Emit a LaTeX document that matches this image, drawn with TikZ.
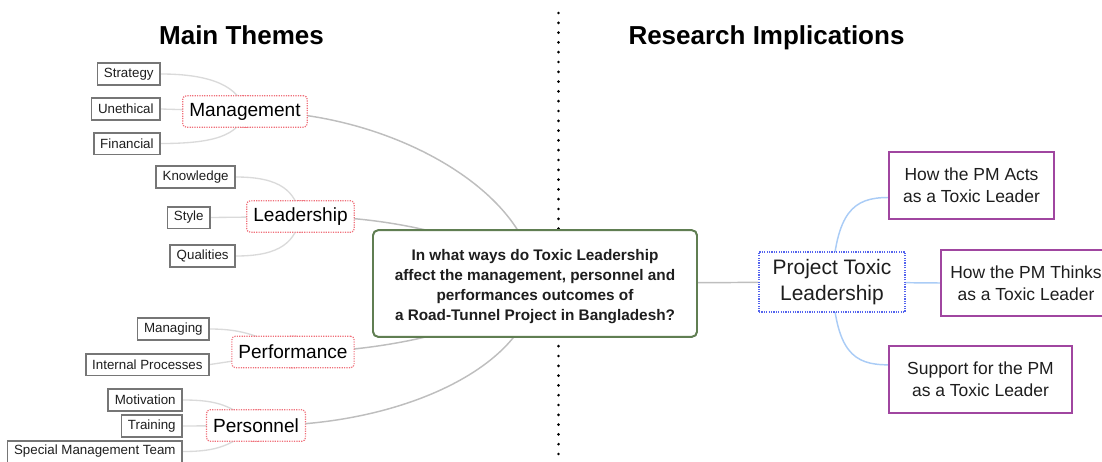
\documentclass[tikz,border=0pt]{standalone}
\usepackage{fontspec}
\setmainfont{Liberation Sans}
\usepackage{tikz}

\definecolor{themered}{RGB}{240,112,122}
\definecolor{subgray}{RGB}{118,118,118}
\definecolor{rootgreen}{RGB}{96,126,82}
\definecolor{hubblue}{RGB}{84,100,238}
\definecolor{implpurple}{RGB}{160,70,160}
\definecolor{trunkgray}{RGB}{190,190,190}
\definecolor{twiggray}{RGB}{218,218,218}
\definecolor{branchblue}{RGB}{170,204,246}
\definecolor{textgray}{RGB}{30,30,30}

\tikzset{
  title/.style={font=\fontsize{19.5}{23}\selectfont\bfseries, text=black, inner sep=0pt},
  theme/.style={draw=themered, line width=0.9pt, dash pattern=on 0.9pt off 0.9pt, rounded corners=2.5pt,
    fill=white, inner xsep=4.9pt, inner ysep=0pt, minimum height=23.5pt,
    font=\fontsize{14.3}{17}\selectfont, text=black},
  sub/.style={draw=subgray, line width=1.3pt, fill=white, inner xsep=4.9pt, inner ysep=0pt,
    minimum height=16.3pt, font=\fontsize{10}{12}\selectfont, text=textgray},
  root/.style={draw=rootgreen, line width=1.4pt, rounded corners=4pt, fill=white, align=center,
    minimum width=243pt, minimum height=80pt, inner sep=0pt,
    font=\fontsize{11.5}{15}\selectfont\bfseries, text=textgray},
  hub/.style={draw=hubblue, line width=0.9pt, dash pattern=on 0.9pt off 0.9pt, fill=white, align=center,
    minimum width=109.5pt, minimum height=45pt, inner sep=0pt,
    font=\fontsize{15.7}{19.5}\selectfont, text=textgray},
  impl/.style={draw=implpurple, line width=1.3pt, fill=white, align=center, minimum height=50pt, inner sep=0pt,
    font=\fontsize{13.1}{16.5}\selectfont, text=textgray},
  trunk/.style={draw=trunkgray, line width=1.1pt},
  twig/.style={draw=twiggray, line width=1pt},
  branch/.style={draw=branchblue, line width=1.1pt},
  sepline/.style={draw=black, line width=2.2pt, line cap=round, dash pattern=on 0pt off 7.35pt}
}

\begin{document}
\begin{tikzpicture}[x=0.75pt,y=0.75pt,yscale=-1,xscale=1]
\useasboundingbox (0,0) rectangle (1102,461);

%Straight Lines: separator
\draw [sepline] (558.5,13) -- (558.5,470) ;

% Text Node: headings
\node [title, anchor=base] (lefthead) at (241.5,44) {Main Themes};
\node [title, anchor=base] (righthead) at (766.5,44) {Research Implications};

% Centre and hubs
\node [root] (root) at (535,283.5) {};
\node [hub] (ptl) at (832,282) {};

% Main themes
\node [theme] (mgmt) at (245,111.5) {};
\node [theme] (lead) at (300.5,216.5) {};
\node [theme] (perf) at (293,352) {};
\node [theme] (pers) at (256,425.5) {};

% Sub topics
\node [sub, anchor=east] (strategy) at (161,74) {};
\node [sub, anchor=east] (unethical) at (161,109) {};
\node [sub, anchor=east] (financial) at (161,143.5) {};
\node [sub, anchor=east] (knowledge) at (236,177) {};
\node [sub, anchor=east] (stylebox) at (211,217.5) {};
\node [sub, anchor=east] (qualities) at (236,256) {};
\node [sub, anchor=east] (managing) at (210,329) {};
\node [sub, anchor=east] (intproc) at (210,364.5) {};
\node [sub, anchor=east] (motivation) at (183,400) {};
\node [sub, anchor=east] (training) at (183,426) {};
\node [sub, anchor=east] (smt) at (183,451.5) {};

% Implications
\node [impl, minimum width=123.75pt] (acts) at (971.5,185.5) {};
\node [impl, minimum width=128pt] (thinks) at (1026,283) {};
\node [impl, minimum width=137pt] (support) at (980.5,379.5) {};

%Curve Lines: centre to themes
\draw [trunk] (mgmt.east) .. controls +(140,0) and +(-2,-90) .. (root.center) ;
\draw [trunk] (lead.east) .. controls +(96,0) and +(-25,-38) .. (root.center) ;
\draw [trunk] (perf.east) .. controls +(76,0) and +(-35,46.5) .. (root.center) ;
\draw [trunk] (pers.east) .. controls +(143,0) and +(-2,80) .. (root.center) ;
\draw [trunk] (root) -- (ptl) ;

%Curve Lines: themes to sub topics
\draw [twig] (strategy.east) .. controls +(50,0) and +(-5,-25) .. (mgmt.center) ;
\draw [twig] (unethical.east) -- (mgmt.center) ;
\draw [twig] (financial.east) .. controls +(50,0) and +(-5,25) .. (mgmt.center) ;
\draw [twig] (knowledge.east) .. controls +(45,0) and +(-5,-25) .. (lead.center) ;
\draw [twig] (stylebox.east) -- (lead.center) ;
\draw [twig] (qualities.east) .. controls +(45,0) and +(-5,25) .. (lead.center) ;
\draw [twig] (managing.east) .. controls +(40,0) and +(-30,-12) .. (perf.center) ;
\draw [twig] (intproc.east) -- (perf.center) ;
\draw [twig] (motivation.east) .. controls +(35,0) and +(-25,-20) .. (pers.center) ;
\draw [twig] (training.east) -- (pers.center) ;
\draw [twig] (smt.east) .. controls +(35,0) and +(-25,20) .. (pers.center) ;

%Curve Lines: hub to implications (yshift runs down the page here)
\coordinate (actsin) at ([yshift=9pt]acts.west) ;
\coordinate (supportin) at ([yshift=-11pt]support.west) ;
\draw [branch] (ptl.center) .. controls +(4,-70) and +(-35,0) .. (actsin) ;
\draw [branch] (ptl.center) -- (thinks.west) ;
\draw [branch] (ptl.center) .. controls +(4,70) and +(-35,0) .. (supportin) ;

% Text Node: boxes redrawn over the lines
\node [root] at (root) {};
\node [root, draw=none, fill=none] (question) at ([yshift=2.6pt]root.center) {In what ways do Toxic Leadership\\affect the management, personnel and\\performances outcomes of\\a Road-Tunnel Project in Bangladesh?};
\node [hub] at (ptl) {Project Toxic\\Leadership};
\node [theme] at (mgmt) {Management};
\node [theme] at (lead) {Leadership};
\node [theme] at (perf) {Performance};
\node [theme] at (pers) {Personnel};
\node [sub, anchor=east] at (strategy.east) {Strategy};
\node [sub, anchor=east] at (unethical.east) {Unethical};
\node [sub, anchor=east] at (financial.east) {Financial};
\node [sub, anchor=east] at (knowledge.east) {Knowledge};
\node [sub, anchor=east] at (stylebox.east) {Style};
\node [sub, anchor=east] at (qualities.east) {Qualities};
\node [sub, anchor=east] at (managing.east) {Managing};
\node [sub, anchor=east] at (intproc.east) {Internal Processes};
\node [sub, anchor=east] at (motivation.east) {Motivation};
\node [sub, anchor=east] at (training.east) {Training};
\node [sub, anchor=east] at (smt.east) {Special Management Team};
\node [impl, minimum width=123.75pt] at (acts) {How the PM Acts\\as a Toxic Leader};
\node [impl, minimum width=128pt] at (thinks) {How the PM Thinks\\as a Toxic Leader};
\node [impl, minimum width=137pt] at (support) {Support for the PM\\as a Toxic Leader};

\end{tikzpicture}
\end{document}
